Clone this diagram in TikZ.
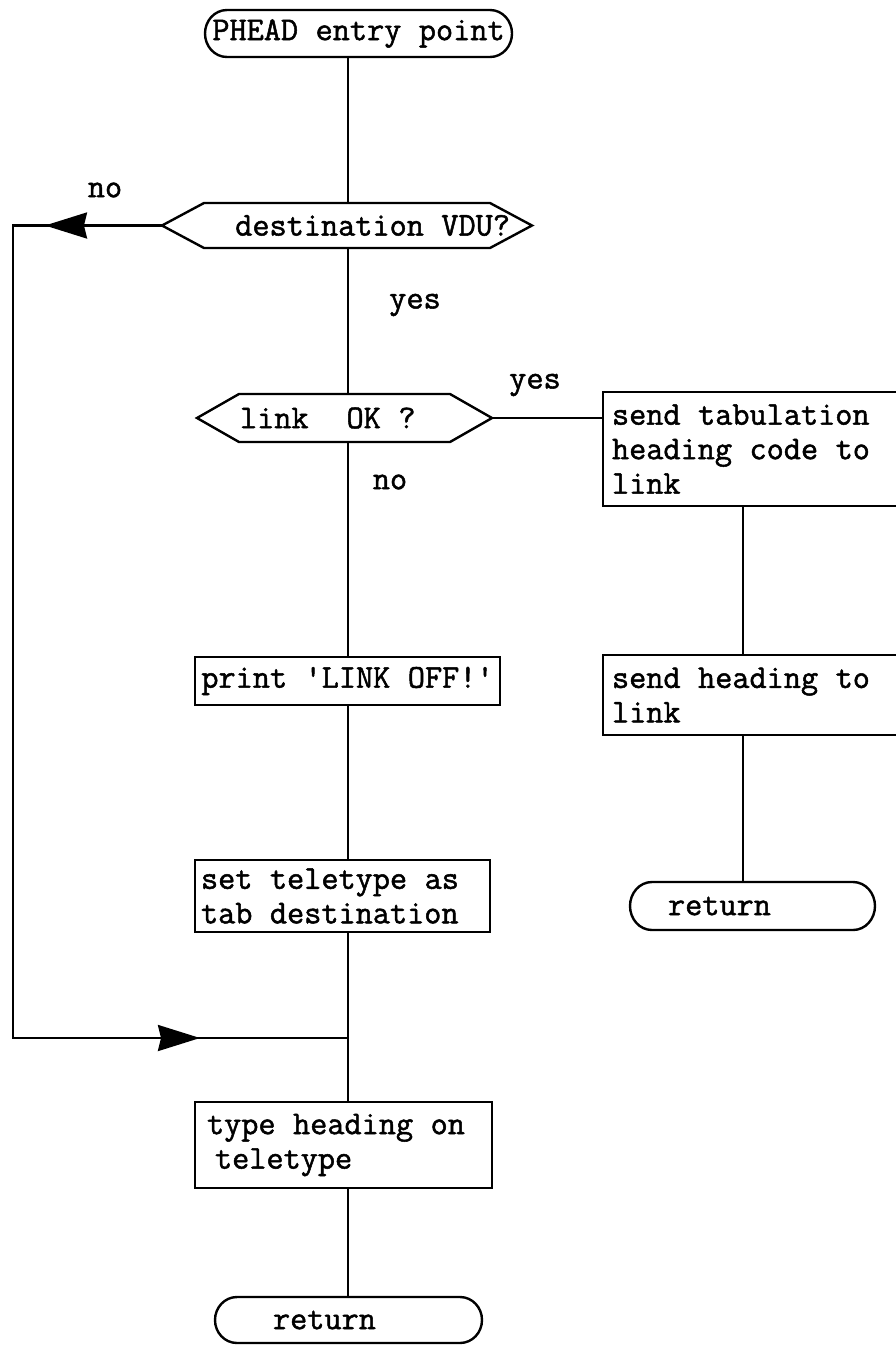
\documentclass[tikz,border=0pt]{standalone}
\usepackage{fontspec}
\usetikzlibrary{arrows.meta,decorations.markings}

% typewriter face, emboldened, with full-cell word spaces
\newfontfamily\typerfont{Latin Modern Mono}[FakeBold=1.5]
\newcommand\typerset{%
  \typerfont\fontsize{33.3}{34.5}\selectfont
  \fontdimen2\font=17.5pt\relax
  \fontdimen3\font=0pt\relax
  \fontdimen4\font=0pt\relax}

% outline of a decision box: pointed ends, #2 = depth of the points
\newcommand\hexframe[2]{%
  \draw[line join=miter] (#1.west) -- ([xshift=#2]#1.north west)
    -- ([xshift=-#2]#1.north east) -- (#1.east)
    -- ([xshift=-#2]#1.south east) -- ([xshift=#2]#1.south west) -- cycle;}
% outline of a terminal: bracket-like rounded ends, #2 = depth of the ends
\newcommand\capframe[2]{%
  \draw (#1.west) to[out=90,in=180] ([xshift=#2]#1.north west)
    -- ([xshift=-#2]#1.north east) to[out=0,in=90] (#1.east)
    to[out=-90,in=0] ([xshift=-#2]#1.south east)
    -- ([xshift=#2]#1.south west) to[out=180,in=-90] (#1.west) -- cycle;}

\tikzset{
  flowtext/.style={font=\typerset,
    execute at begin node={\spaceskip=17.5pt\relax\xspaceskip=17.5pt\relax}},
  shapebase/.style={flowtext, rectangle, inner sep=0pt, outer sep=0pt},
  procbox/.style={shapebase, draw},
  termbox/.style={shapebase, minimum height=47, align=left},
  decbox/.style={shapebase},
  tag/.style={flowtext, inner sep=0pt},
  loopline/.style={postaction={decorate}, decoration={markings,
    mark=at position 117pt with {\arrow{Stealth[length=42pt,width=26pt,inset=3pt]}},
    mark=at position -148pt with {\arrow{Stealth[length=42pt,width=26pt,inset=3pt]}}}},
}

\begin{document}
\begin{tikzpicture}[x=1pt,y=-1pt,line width=2.4pt]
\useasboundingbox (0,0) rectangle (896,1345);
\clip (0,0) rectangle (896,1345);

% guide columns for the vertical connectors
\coordinate (col) at (348,0);
\coordinate (rcol) at (743,0);
\coordinate (lc) at (13,0);
\coordinate (mrg) at (348,1038);

% main column
\node[termbox, minimum width=307, align=center] (start) at (358.5,33.5) {PHEAD entry point};
\capframe{start}{22pt}

\node[decbox, minimum width=370, minimum height=45, text width=326, align=right] (d1) at (347,225.5) {destination VDU?};
\hexframe{d1}{42pt}

\node[decbox, minimum width=295, minimum height=48, text width=209, align=left] (d2) at (344.5,418) {link\hspace*{38pt}OK ?};
\hexframe{d2}{42pt}

\node[procbox, minimum width=305, minimum height=48, align=center] (p1) at (347.5,681) {print 'LINK OFF!'};
\node[procbox, minimum width=295, minimum height=72, text width=283, align=left] (p2) at (342.5,896) {set teletype as\\tab destination};
\node[procbox, minimum width=297, minimum height=86, text width=273, align=left] (p3) at (343.5,1145) {type heading on\\\hspace*{8pt}teletype};

\node[termbox, minimum width=267, minimum height=46, text width=151] (ed) at (348.5,1320) {return};
\capframe{ed}{22pt}

% right-hand column
\node[procbox, minimum width=297, minimum height=114, text width=279, align=left] (b1) at (751.5,449) {send tabulation\\heading code to\\link};
\node[procbox, minimum width=297, minimum height=80, text width=279, align=left] (b2) at (751.5,695) {send heading to\\link};
\node[termbox, minimum width=245, minimum height=48, text width=169] (rt) at (752.5,906) {return};
\capframe{rt}{22pt}

% branch labels
\node[tag] (noA) at (105,190) {no};
\node[tag] (yesA) at (415,305) {yes};
\node[tag] (yesB) at (535,385) {yes};
\node[tag] (noB) at (390,482) {no};

% connectors
\draw (start.south -| col) -- (d1.north -| col);
\draw (d1.south -| col) -- (d2.north -| col);
\draw (d2.south -| col) -- (p1.north -| col);
\draw (p1.south -| col) -- (p2.north -| col);
\draw (p2.south -| col) -- (p3.north -| col);
\draw (p3.south -| col) -- (ed.north -| col);
\draw (d2.east) -- (d2.east -| b1.west);
\draw (b1.south -| rcol) -- (b2.north -| rcol);
\draw (b2.south -| rcol) -- (rt.north -| rcol);
\draw[loopline] (d1.west) -- (d1.west -| lc) -- (lc |- mrg) -- (mrg);
\end{tikzpicture}
\end{document}
